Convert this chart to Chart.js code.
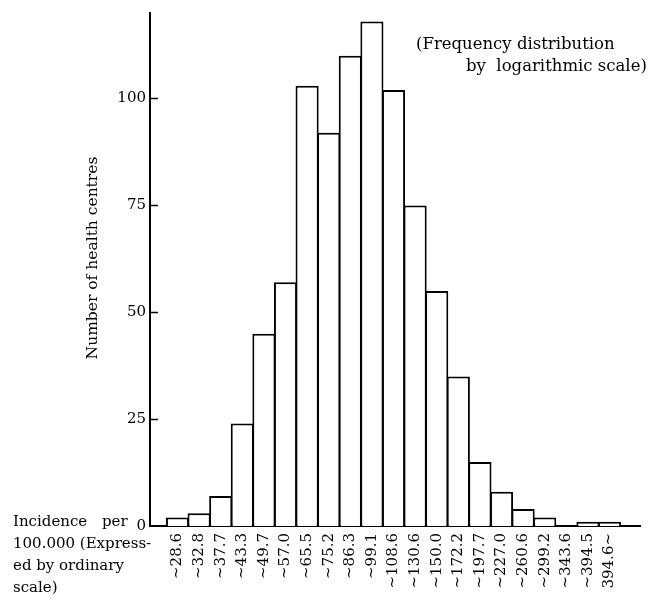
<!DOCTYPE html>
<html>
<head>
<meta charset="utf-8">
<script src="https://cdn.jsdelivr.net/npm/chart.js@4.4.1/dist/chart.umd.min.js"></script>
<style>
  body { margin: 0; background: #fff; }
  #wrap { position: relative; width: 655px; height: 600px; }
</style>
</head>
<body>
<div id="wrap"><canvas id="chart" width="655" height="600"></canvas></div>
<script>
// class upper limits (incidence per 100,000), one bar each
const classLabels = ['~28.6', '~32.8', '~37.7', '~43.3', '~49.7', '~57.0', '~65.5', '~75.2',
  '~86.3', '~99.1', '~108.6', '~130.6', '~150.0', '~172.2', '~197.7', '~227.0',
  '~260.6', '~299.2', '~343.6', '~394.5', '394.6~'];
// number of health centres in each class
const centreCounts = [2, 3, 7, 24, 45, 57, 103, 92, 110, 118, 102, 75, 55, 35, 15, 8, 4, 2, 0, 1, 1];
const yTicks = [0, 25, 50, 75, 100];
const noteLines = ['(Frequency distribution', 'by  logarithmic scale)'];
const xTitleLines = ['Incidence', 'per', '100.000 (Express-', 'ed by ordinary', 'scale)'];
const yTitle = 'Number of health centres';

const FONT = '"DejaVu Serif", serif';

// inside tick marks on the y axis, axis titles and the note
const decorations = {
  id: 'decorations',
  afterDraw(chart) {
    const ctx = chart.ctx;
    const y = chart.scales.y;
    const left = chart.chartArea.left;
    ctx.save();
    ctx.strokeStyle = '#000';
    ctx.lineWidth = 1.5;
    yTicks.forEach(v => {
      if (v === 0) return;
      const py = Math.round(y.getPixelForValue(v)) + 0.5;
      ctx.beginPath();
      ctx.moveTo(left, py);
      ctx.lineTo(left + 8, py);
      ctx.stroke();
    });

    ctx.fillStyle = '#000';
    ctx.textBaseline = 'middle';

    // y axis title, rotated
    ctx.save();
    ctx.translate(93, 258);
    ctx.rotate(-Math.PI / 2);
    ctx.textAlign = 'center';
    ctx.font = '15.5px ' + FONT;
    ctx.fillText(yTitle, 0, 0);
    ctx.restore();

    ctx.textAlign = 'left';
    ctx.font = '16.5px ' + FONT;
    ctx.fillText(noteLines[0], 416, 45);
    ctx.fillText(noteLines[1], 466, 67);

    // x axis caption, bottom left
    ctx.font = '15px ' + FONT;
    ctx.fillText(xTitleLines[0], 13, 522);
    ctx.fillText(xTitleLines[1], 102, 522);
    ctx.fillText(xTitleLines[2], 13, 544);
    ctx.fillText(xTitleLines[3], 13, 566);
    ctx.fillText(xTitleLines[4], 13, 588);
    ctx.restore();
  }
};

new Chart(document.getElementById('chart'), {
  type: 'bar',
  data: {
    datasets: [{
      data: centreCounts.map((v, i) => ({ x: i, y: v })),
      backgroundColor: '#fff',
      borderColor: '#000',
      borderWidth: 2,
      borderSkipped: 'start',
      barPercentage: 1.07,
      categoryPercentage: 1
    }]
  },
  options: {
    responsive: false,
    animation: false,
    layout: { padding: { left: 84, top: 9, right: 15, bottom: 0 } },
    plugins: {
      legend: { display: false },
      tooltip: { enabled: false }
    },
    scales: {
      x: {
        type: 'linear',
        offset: false,
        min: -1.273,
        max: 21.41,
        afterBuildTicks: s => { s.ticks = classLabels.map((_, i) => ({ value: i })); },
        afterFit: s => { s.height = 74; },
        grid: { display: false, drawTicks: false },
        border: { display: true, color: '#000', width: 2 },
        ticks: {
          autoSkip: false,
          minRotation: 90,
          maxRotation: 90,
          padding: 7,
          color: '#000',
          font: { family: FONT, size: 15 },
          callback: v => classLabels[v]
        }
      },
      y: {
        min: 0,
        max: 120,
        afterBuildTicks: s => { s.ticks = yTicks.map(v => ({ value: v })); },
        afterFit: s => { s.width = 66; },
        grid: { display: false, drawTicks: false },
        border: { display: true, color: '#000', width: 2 },
        ticks: {
          padding: 4,
          color: '#000',
          font: { family: FONT, size: 15 }
        }
      }
    }
  },
  plugins: [decorations]
});
</script>
</body>
</html>
